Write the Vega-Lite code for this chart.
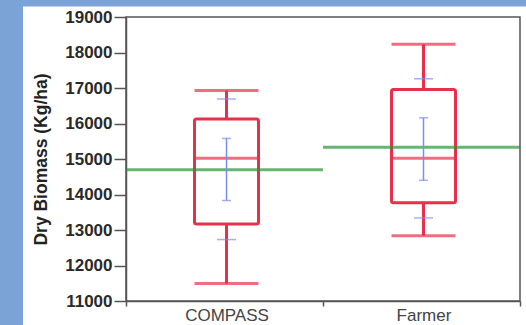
{
  "$schema": "https://vega.github.io/schema/vega-lite/v6.json",
  "width": 394,
  "height": 284,
  "autosize": "none",
  "padding": {"left": 126, "top": 17, "right": 6, "bottom": 24},
  "background": "white",
  "config": {
    "view": {"stroke": "#555555", "strokeWidth": 1.5},
    "axis": {"domainColor": "#555555", "domainWidth": 1.5, "tickColor": "#555555", "tickWidth": 1.5, "grid": false},
    "axisY": {
      "titleFont": "Liberation Sans",
      "titleFontSize": 17.5,
      "titleFontWeight": "bold",
      "titleColor": "#222222",
      "titlePadding": 14,
      "labelFont": "Liberation Sans",
      "labelFontSize": 17,
      "labelFontWeight": "bold",
      "labelColor": "#2a2a2a",
      "labelOverlap": false,
      "labelBound": false,
      "tickCount": 12,
      "format": "d",
      "tickSize": 12,
      "labelPadding": 2,
      "zindex": 1
    }
  },
  "resolve": {"scale": {"x": "independent", "y": "independent"}},
  "layer": [
    {
      "data": {"values": [{}]},
      "mark": {"type": "rect", "fill": "#7ba3d6", "clip": false},
      "encoding": {
        "x": {"datum": -0.33, "type": "quantitative", "scale": {"domain": [0, 1]}, "axis": null},
        "x2": {"datum": -0.2614},
        "y": {"datum": 19700, "type": "quantitative", "scale": {"domain": [11000, 19000], "nice": false, "zero": false}, "axis": null},
        "y2": {"datum": 10000}
      }
    },
    {
      "data": {"values": [{}]},
      "mark": {"type": "rect", "fill": "#7ba3d6", "clip": false},
      "encoding": {
        "x": {"datum": -0.33, "type": "quantitative", "scale": {"domain": [0, 1]}, "axis": null},
        "x2": {"datum": 1.1},
        "y": {"datum": 19700, "type": "quantitative", "scale": {"domain": [11000, 19000], "nice": false, "zero": false}, "axis": null},
        "y2": {"datum": 19293}
      }
    },
    {
      "data": {
        "values": [
          {"group": "COMPASS", "lo": 11490, "q1": 13170, "median": 15020, "q3": 16130, "hi": 16930, "mean": 14700, "ci_lo": 13830, "ci_hi": 15580, "sd_lo": 12730, "sd_hi": 16690},
          {"group": "Farmer", "lo": 12840, "q1": 13770, "median": 15020, "q3": 16960, "hi": 18230, "mean": 15330, "ci_lo": 14400, "ci_hi": 16160, "sd_lo": 13340, "sd_hi": 17260}
        ]
      },
      "encoding": {
        "x": {
          "field": "group",
          "type": "nominal",
          "sort": ["COMPASS", "Farmer"],
          "scale": {"paddingInner": 0, "paddingOuter": 0},
          "axis": {
            "title": null,
            "labelAngle": 0,
            "labelFont": "Liberation Sans",
            "labelFontSize": 17,
            "labelColor": "#444444",
            "tickBand": "extent",
            "tickSize": 5,
            "labelPadding": 1,
            "labelOffset": 2,
            "zindex": 1
          }
        }
      },
      "layer": [
        {
          "mark": {"type": "rule", "color": "#e8304a", "strokeWidth": 3, "xOffset": 2},
          "encoding": {
            "y": {
              "field": "lo",
              "type": "quantitative",
              "scale": {"domain": [11000, 19000], "nice": false, "zero": false},
              "axis": {
                "title": "Dry Biomass (Kg/ha)",
                "values": [11000, 12000, 13000, 14000, 15000, 16000, 17000, 18000, 19000],
                "tickCount": 12,
                "labelOverlap": false
              }
            },
            "y2": {"field": "q1"}
          }
        },
        {
          "mark": {"type": "rule", "color": "#e8304a", "strokeWidth": 3, "xOffset": 2},
          "encoding": {"y": {"field": "q3", "type": "quantitative"}, "y2": {"field": "hi"}}
        },
        {
          "mark": {"type": "tick", "color": "#e8304a", "thickness": 3, "size": 64, "xOffset": 2},
          "encoding": {"y": {"field": "hi", "type": "quantitative"}}
        },
        {
          "mark": {"type": "tick", "color": "#e8304a", "thickness": 3, "size": 64, "xOffset": 2},
          "encoding": {"y": {"field": "lo", "type": "quantitative"}}
        },
        {
          "mark": {"type": "bar", "fill": "transparent", "stroke": "#e8304a", "strokeWidth": 3, "size": 64, "cornerRadius": 2, "xOffset": 2},
          "encoding": {"y": {"field": "q1", "type": "quantitative"}, "y2": {"field": "q3"}}
        },
        {
          "mark": {"type": "tick", "color": "#e8304a", "thickness": 3, "size": 64, "xOffset": 2},
          "encoding": {"y": {"field": "median", "type": "quantitative"}}
        },
        {
          "mark": {"type": "tick", "color": "#2a9436", "thickness": 3, "size": 197},
          "encoding": {"y": {"field": "mean", "type": "quantitative"}}
        },
        {
          "mark": {"type": "rule", "color": "#7a8ff0", "strokeWidth": 1.5, "xOffset": 2},
          "encoding": {"y": {"field": "ci_lo", "type": "quantitative"}, "y2": {"field": "ci_hi"}}
        },
        {
          "mark": {"type": "tick", "color": "#7a8ff0", "thickness": 1.5, "size": 9, "xOffset": 2},
          "encoding": {"y": {"field": "ci_lo", "type": "quantitative"}}
        },
        {
          "mark": {"type": "tick", "color": "#7a8ff0", "thickness": 1.5, "size": 9, "xOffset": 2},
          "encoding": {"y": {"field": "ci_hi", "type": "quantitative"}}
        },
        {
          "mark": {"type": "tick", "color": "#7a8ff0", "thickness": 1.5, "size": 19, "xOffset": 2},
          "encoding": {"y": {"field": "sd_lo", "type": "quantitative"}}
        },
        {
          "mark": {"type": "tick", "color": "#7a8ff0", "thickness": 1.5, "size": 19, "xOffset": 2},
          "encoding": {"y": {"field": "sd_hi", "type": "quantitative"}}
        }
      ]
    }
  ]
}
